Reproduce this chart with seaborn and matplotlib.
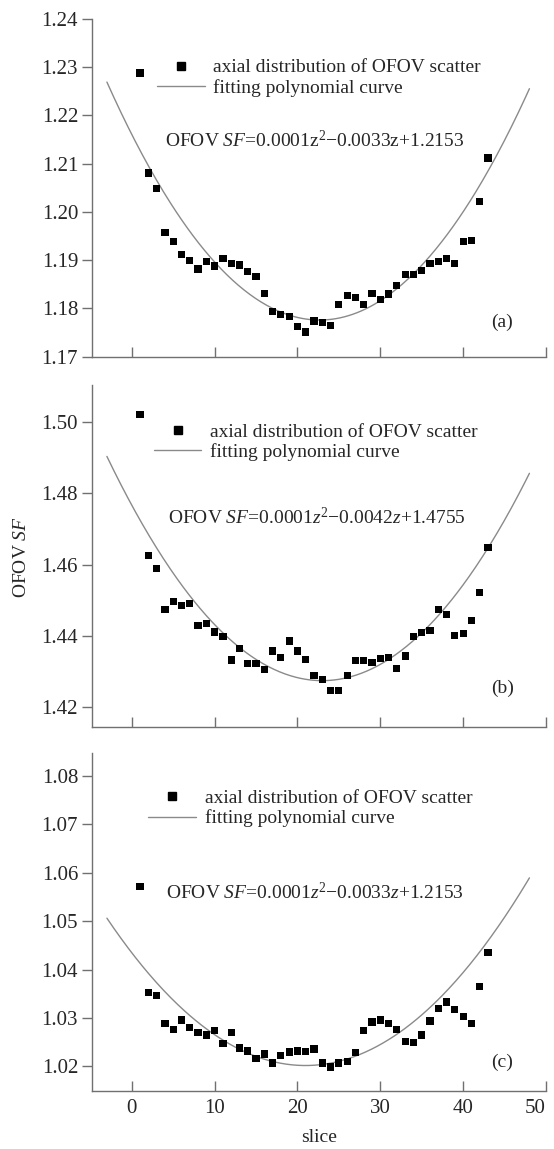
import numpy as np
import pandas as pd
import matplotlib
matplotlib.use("Agg")
import matplotlib.pyplot as plt
import seaborn as sns
from matplotlib.lines import Line2D

# ---------------- data ----------------
slices = [1, 2, 3, 4, 5, 6, 7, 8, 9, 10, 11, 12, 13, 14, 15, 16, 17, 18, 19, 20, 21, 22,
          23, 24, 25, 26, 27, 28, 29, 30, 31, 32, 33, 34, 35, 36, 37, 38, 39, 40, 41, 42, 43]

sf_a = [1.2288, 1.2081, 1.2048, 1.1957, 1.1939, 1.1912, 1.1900, 1.1882, 1.1898, 1.1888,
        1.1903, 1.1894, 1.1890, 1.1876, 1.1867, 1.1831, 1.1793, 1.1787, 1.1783, 1.1762,
        1.1751, 1.1774, 1.1771, 1.1765, 1.1809, 1.1827, 1.1822, 1.1809, 1.1831, 1.1818,
        1.1830, 1.1848, 1.1870, 1.1870, 1.1879, 1.1893, 1.1898, 1.1903, 1.1894, 1.1939,
        1.1941, 1.2021, 1.2112]

sf_b = [1.5021, 1.4625, 1.4589, 1.4474, 1.4496, 1.4485, 1.4491, 1.4430, 1.4435, 1.4411,
        1.4398, 1.4333, 1.4364, 1.4323, 1.4323, 1.4307, 1.4358, 1.4340, 1.4386, 1.4358,
        1.4334, 1.4290, 1.4279, 1.4247, 1.4247, 1.4290, 1.4331, 1.4331, 1.4325, 1.4337,
        1.4340, 1.4309, 1.4344, 1.4398, 1.4410, 1.4416, 1.4475, 1.4461, 1.4401, 1.4407,
        1.4444, 1.4522, 1.4647]

sf_c = [1.0572, 1.0353, 1.0347, 1.0288, 1.0277, 1.0296, 1.0281, 1.0270, 1.0265, 1.0274,
        1.0248, 1.0270, 1.0238, 1.0232, 1.0217, 1.0226, 1.0207, 1.0223, 1.0230, 1.0232,
        1.0231, 1.0236, 1.0207, 1.0199, 1.0207, 1.0210, 1.0229, 1.0274, 1.0292, 1.0296,
        1.0288, 1.0276, 1.0252, 1.0250, 1.0265, 1.0294, 1.0320, 1.0333, 1.0318, 1.0303,
        1.0288, 1.0365, 1.0436]

# fitted curves as drawn (vertex form: a, vertex slice, vertex value)
curve_a = [7.48e-5, 22.68, 1.1776]
curve_b = [9.29e-5, 23.0, 1.4275]
curve_c = [5.30e-5, 20.96, 1.0202]
curve_range = [-3, 48]

series = [sf_a, sf_b, sf_c]
curves = [curve_a, curve_b, curve_c]
panel_labels = ["(a)", "(b)", "(c)"]
equations = [
    r"OFOV $\mathit{SF}$=0.0001$\mathrm{z}^2$−0.0033z+1.2153",
    r"OFOV $\mathit{SF}$=0.0001$\mathit{z}^2$−0.0042$\mathit{z}$+1.4755",
    r"OFOV $\mathit{SF}$=0.0001$\mathit{z}^2$−0.0033$\mathit{z}$+1.2153",
]
legend_labels = ["axial distribution of OFOV scatter", "fitting polynomial curve"]
ylims = [(1.17, 1.24), (1.4146, 1.5103), (1.015, 1.0848)]
yticks = [[1.17, 1.18, 1.19, 1.20, 1.21, 1.22, 1.23, 1.24],
          [1.42, 1.44, 1.46, 1.48, 1.50],
          [1.02, 1.03, 1.04, 1.05, 1.06, 1.07, 1.08]]
xticks = [0, 10, 20, 30, 40, 50]

# ---------------- style ----------------
sns.set_theme(style="ticks")
plt.rcParams['font.family'] = ['Liberation Serif', 'DejaVu Serif']
plt.rcParams['mathtext.fontset'] = 'custom'
plt.rcParams['mathtext.rm'] = 'Liberation Serif'
plt.rcParams['mathtext.it'] = 'Liberation Serif:italic'
plt.rcParams['mathtext.bf'] = 'Liberation Serif:bold'

FS = 14
TFS = 15
spine_col = '#707070'
curve_col = '#8a8a8a'

fig = plt.figure(figsize=(5.54, 11.49), dpi=100)
W, H = 554, 1149
left_px, right_px = 92, 546
panels_px = [(19, 356.7), (385, 726.7), (752.7, 1090.7)]

leg_pos = [(0.143, 0.826), (0.136, 0.833), (0.124, 0.835)]
eq_pos = [(0.160, 0.640), (0.1665, 0.611), (0.164, 0.585)]
lab_pos = [(0.902, 0.103), (0.905, 0.113), (0.903, 0.085)]

for i, (top, bot) in enumerate(panels_px):
    ax = fig.add_axes([left_px / W, 1 - bot / H, (right_px - left_px) / W, (bot - top) / H])
    df = pd.DataFrame({"slice": slices, "sf": series[i]})
    a, h, k = curves[i]
    zz = np.linspace(curve_range[0], curve_range[1], 300)
    fit = a * (zz - h) ** 2 + k

    sns.scatterplot(data=df, x="slice", y="sf", marker='s', s=27, color='black',
                    edgecolor='none', linewidth=0, ax=ax, legend=False, zorder=3)
    sns.lineplot(x=zz, y=fit, color=curve_col, linewidth=1.0, ax=ax, legend=False, zorder=2)

    ax.set_xlim(-4.8, 50)
    ax.set_ylim(*ylims[i])
    ax.set_yticks(yticks[i])
    ax.set_yticklabels([f"{v:.2f}" for v in yticks[i]], fontsize=TFS)
    ax.set_xticks(xticks)
    if i == 2:
        ax.set_xticklabels([str(v) for v in xticks], fontsize=TFS)
        ax.set_xlabel("slice", fontsize=FS, labelpad=8)
        ax.get_xticklabels()[-1].set_horizontalalignment('right')
    else:
        ax.set_xticklabels([])
        ax.set_xlabel("")
    ax.set_ylabel("")
    for s in ['top', 'right']:
        ax.spines[s].set_visible(False)
    for s in ['left', 'bottom']:
        ax.spines[s].set_color(spine_col)
        ax.spines[s].set_linewidth(1.0)
    ax.tick_params(axis='y', direction='out', length=7, width=1.0, color=spine_col, pad=3)
    ax.tick_params(axis='x', direction='in', length=7, width=1.0, color=spine_col, pad=6)

    handles = [Line2D([], [], marker='s', linestyle='', color='black', markersize=6),
               Line2D([], [], color=curve_col, linewidth=1.0)]
    ax.legend(handles=handles, labels=legend_labels, loc='center left',
              bbox_to_anchor=leg_pos[i], frameon=False, fontsize=FS,
              handlelength=2.45, handletextpad=0.45, labelspacing=0.12,
              borderpad=0, borderaxespad=0)
    ax.text(eq_pos[i][0], eq_pos[i][1], equations[i], transform=ax.transAxes,
            ha='left', va='center', fontsize=FS)
    ax.text(lab_pos[i][0], lab_pos[i][1], panel_labels[i], transform=ax.transAxes,
            ha='center', va='center', fontsize=FS)

fig.text(21 / W, 1 - 557 / H, r"OFOV $\mathit{SF}$", rotation=90, ha='center', va='center',
         fontsize=FS)

fig.savefig("out.png", dpi=100)
